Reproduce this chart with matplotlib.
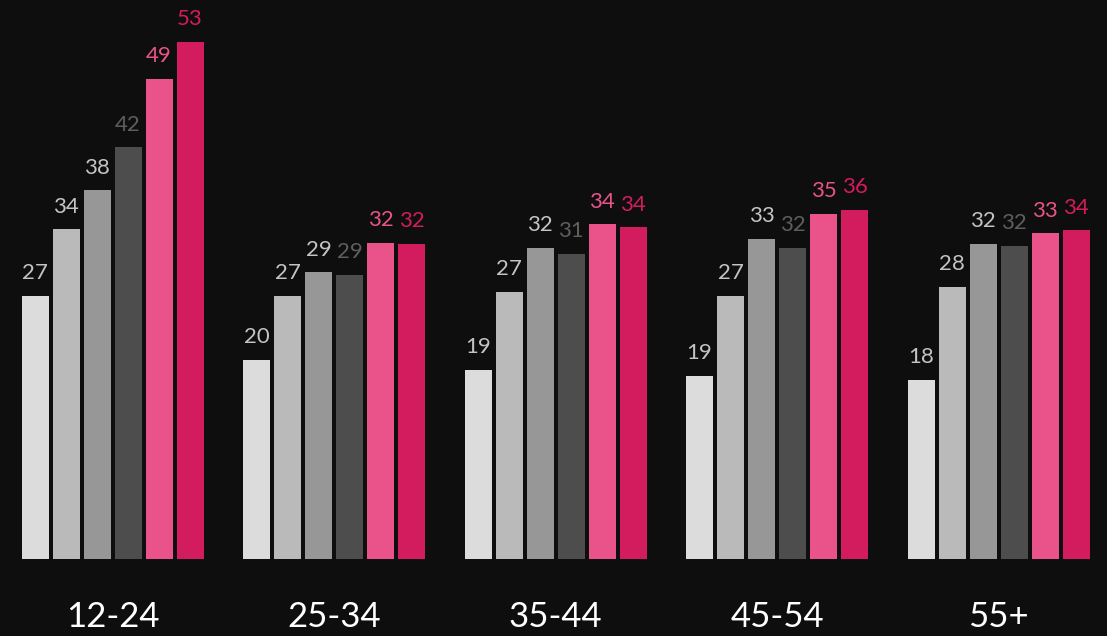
import matplotlib.pyplot as plt
import numpy as np

plt.rcParams['font.family'] = ['Lato', 'DejaVu Sans']

# Age groups and the six series per group
age_groups = ["12-24", "25-34", "35-44", "45-54", "55+"]
series_1 = [27.0, 20.4, 19.4, 18.8, 18.4]
series_2 = [33.8, 27.0, 27.4, 27.0, 27.9]
series_3 = [37.8, 29.4, 31.9, 32.8, 32.3]
series_4 = [42.2, 29.1, 31.3, 31.9, 32.1]
series_5 = [49.2, 32.4, 34.3, 35.4, 33.4]
series_6 = [53.0, 32.3, 34.0, 35.8, 33.7]

all_series = [series_1, series_2, series_3, series_4, series_5, series_6]
bar_colors = ['#dcdcdc', '#bababa', '#979797', '#4d4d4d', '#ea5389', '#d21c5d']
label_colors = ['#c4c4c4', '#c4c4c4', '#c4c4c4', '#5e5e5e', '#ea5389', '#d21c5d']

bg = '#0e0e0e'
fig = plt.figure(figsize=(11.07, 6.36), dpi=100, facecolor=bg)
ax = fig.add_axes([0, 0, 1, 1])
ax.set_facecolor(bg)

pitch = 31 / 221.5
width = 27 / 221.5
x = np.arange(len(age_groups))

for i, (vals, col, lcol) in enumerate(zip(all_series, bar_colors, label_colors)):
    xpos = x + (i - 2.5) * pitch
    ax.bar(xpos, vals, width=width, color=col, linewidth=0)
    for xp, v in zip(xpos, vals):
        ax.annotate(f"{v:.0f}", (xp, v), xytext=(0, 12), textcoords='offset points',
                    ha='center', va='baseline', fontsize=16, color=lcol)

for xi, lab in zip(x, age_groups):
    ax.text(xi, -5.95, lab, ha='center', va='center', fontsize=25, color='white')

ax.set_xlim(-112.5 / 221.5, (1107 - 112.5) / 221.5)
ax.set_ylim(-(636 - 559) / 9.755, 559 / 9.755)
ax.axis('off')

fig.savefig('out.png', dpi=100, facecolor=bg)
